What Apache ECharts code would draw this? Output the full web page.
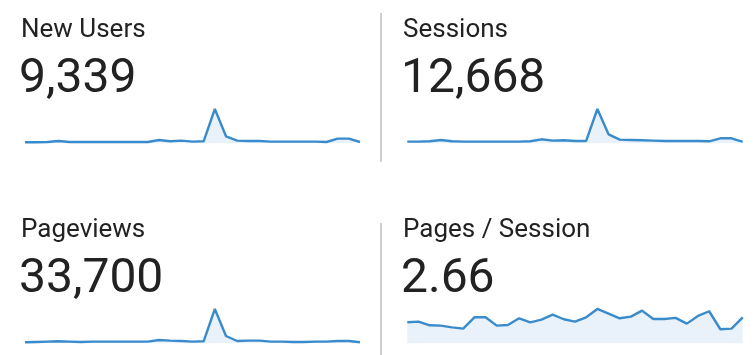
<!DOCTYPE html>
<html><head><meta charset="utf-8">
<script src="https://cdn.jsdelivr.net/npm/echarts@6/dist/echarts.min.js"></script>
<style>html,body{margin:0;padding:0;background:#fff}#c{width:755px;height:355px}</style>
</head><body><div id="c"></div>
<script>
var days = [];
for (var d = 1; d <= 31; d++) days.push(String(d));
var titles = ['New Users', 'Sessions', 'Pageviews', 'Pages / Session'];
var totals = ['9,339', '12,668', '33,700', '2.66'];
var newUsers = [198,198,214,263,214,214,214,214,214,214,214,214,311,247,279,230,247,1808,488,279,263,263,230,230,230,230,230,214,375,375,214];
var sessions = [293,293,312,386,312,293,293,293,293,293,293,312,423,349,367,330,330,2116,702,405,386,367,349,330,330,330,330,312,479,479,274];
var pageviews = [725,783,841,899,841,783,841,841,841,841,841,841,1132,1016,957,841,899,6545,1830,957,1016,1016,841,841,783,783,841,841,957,957,725];
var pagesPerSession = [2.39,2.47,2.05,2.01,1.82,1.67,2.96,2.96,2.01,2.09,2.85,2.39,2.70,3.27,2.74,2.47,2.96,3.91,3.38,2.85,3.04,3.72,2.77,2.77,2.89,2.24,3.12,3.65,1.60,1.67,2.96];
var seriesData = [newUsers, sessions, pageviews, pagesPerSession];
var yMin = [150, 200, 550, 0];
var yMax = [1808, 2116, 6545, 5];

var grids = [
  {left: 25, top: 109, width: 335, height: 34.3},
  {left: 407.3, top: 109, width: 335.4, height: 34.3},
  {left: 25, top: 309, width: 335, height: 34.3},
  {left: 407.3, top: 299.4, width: 335.4, height: 43.9}
];
var textPos = [[21, 0], [403, 0], [21, 200], [403, 200]];

var chart = echarts.init(document.getElementById('c'));
var graphics = [];
for (var i = 0; i < 4; i++) {
  graphics.push({type: 'text', left: textPos[i][0], top: textPos[i][1] + 17,
    style: {text: titles[i], font: '26px Roboto', fill: '#222'}});
  graphics.push({type: 'text', left: textPos[i][0] - 2, top: textPos[i][1] + 56,
    style: {text: totals[i], font: '48px Roboto', fill: '#222'}});
}
graphics.push({type: 'rect', shape: {x: 380, y: 13, width: 2, height: 149}, style: {fill: '#cfcfcf'}});
graphics.push({type: 'rect', shape: {x: 380, y: 223, width: 2, height: 132}, style: {fill: '#cfcfcf'}});

var option = {
  animation: false,
  grid: grids,
  xAxis: grids.map(function (g, i) {
    return {type: 'category', gridIndex: i, data: days, boundaryGap: false, show: false};
  }),
  yAxis: grids.map(function (g, i) {
    return {type: 'value', gridIndex: i, min: yMin[i], max: yMax[i], show: false};
  }),
  series: seriesData.map(function (dat, i) {
    return {type: 'line', xAxisIndex: i, yAxisIndex: i, data: dat, symbol: 'none', clip: false,
      lineStyle: {color: '#3a8bcb', width: 2.4},
      areaStyle: {color: '#e9f2fa', opacity: 1}};
  }),
  graphic: graphics
};
chart.setOption(option);
</script></body></html>
